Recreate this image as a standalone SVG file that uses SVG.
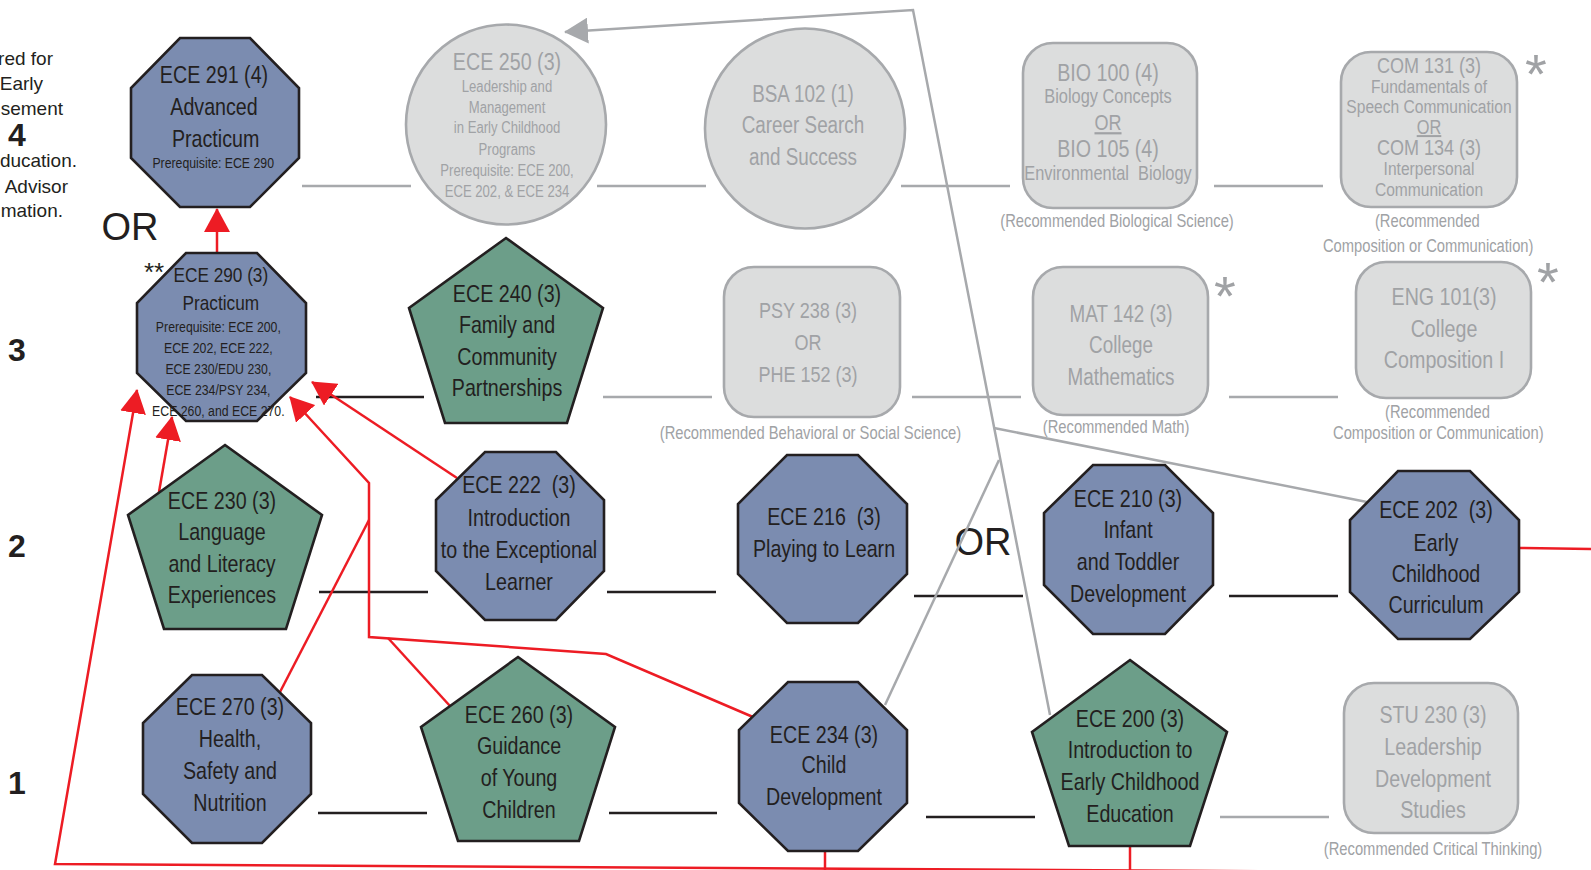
<svg xmlns="http://www.w3.org/2000/svg" width="1591" height="870" viewBox="0 0 1591 870">
<style>
.blue{fill:#7b8cb0;stroke:#231f20;stroke-width:2.6;stroke-linejoin:miter}
.green{fill:#6c9e89;stroke:#231f20;stroke-width:2.6}
.outline{fill:none;stroke:#231f20;stroke-width:2.6}
.gbox{fill:#dcdddd;stroke:#a7a9ac;stroke-width:2.6}
.t{font-family:'Liberation Sans',Arial,sans-serif;text-anchor:middle;fill:#231f20;font-size:24px;white-space:pre}
.s15{font-size:15px}
.s16{font-size:16px}
.s18{font-size:18px}
.s20{font-size:20px}
.s21{font-size:21px}
.s22{font-size:22px}
.s23{font-size:23px}
.gt{fill:#a0a2a5}
.side{font-family:'Liberation Sans',Arial,sans-serif;font-size:19px;fill:#231f20;text-anchor:end}
.num{font-family:'Liberation Sans',Arial,sans-serif;font-size:32px;font-weight:bold;fill:#231f20;text-anchor:middle}
.or{font-family:'Liberation Sans',Arial,sans-serif;font-size:38px;fill:#231f20;text-anchor:middle}
.ast{font-family:'Liberation Sans',Arial,sans-serif;font-size:56px;fill:#a0a2a5;text-anchor:middle}
.red{fill:none;stroke:#ed1c24;stroke-width:2.5}
.grey{fill:none;stroke:#a7a9ac;stroke-width:2.5}
.sepb{stroke:#231f20;stroke-width:2.5}
.sepg{stroke:#a7a9ac;stroke-width:2.5}
</style>
<defs>
<marker id="ar" markerUnits="userSpaceOnUse" markerWidth="24" markerHeight="26" viewBox="0 0 24 26" refX="23" refY="13" orient="auto"><path d="M0,0 L24,13 L0,26 z" fill="#ed1c24"/></marker>
<marker id="ag" markerUnits="userSpaceOnUse" markerWidth="24" markerHeight="26" viewBox="0 0 24 26" refX="23" refY="13" orient="auto"><path d="M0,0 L24,13 L0,26 z" fill="#a7a9ac"/></marker>
</defs>
<rect width="1591" height="870" fill="#ffffff"/>

<g id="side-labels">
<text class="side" x="53" y="65">red for</text>
<text class="side" x="43" y="90">Early</text>
<text class="side" x="63" y="115">sement</text>
<text class="side" x="77" y="167">ducation.</text>
<text class="side" x="68" y="193">Advisor</text>
<text class="side" x="63" y="217">mation.</text>
<text class="num" x="17" y="146">4</text>
<text class="num" x="17" y="361">3</text>
<text class="num" x="17" y="557">2</text>
<text class="num" x="17" y="794">1</text>
<text class="or" x="130" y="240">OR</text>
<text class="or" x="983" y="555">OR</text>
<text x="154" y="281" style="font-family:'Liberation Sans',Arial,sans-serif;font-size:26px;fill:#231f20;text-anchor:middle">**</text>
<text class="ast" x="1536" y="93">*</text>
<text class="ast" x="1225" y="315">*</text>
<text class="ast" x="1548" y="301">*</text>
</g>

<g id="connectors">
<line class="sepg" x1="302" y1="186" x2="411" y2="186"/>
<line class="sepg" x1="597" y1="186" x2="706" y2="186"/>
<line class="sepg" x1="901" y1="186" x2="1010" y2="186"/>
<line class="sepg" x1="1214" y1="186" x2="1323" y2="186"/>
<line class="sepb" x1="316" y1="397" x2="424" y2="397"/>
<line class="sepg" x1="603" y1="397" x2="712" y2="397"/>
<line class="sepg" x1="912" y1="397" x2="1021" y2="397"/>
<line class="sepg" x1="1229" y1="397" x2="1338" y2="397"/>
<line class="sepb" x1="319" y1="592" x2="428" y2="592"/>
<line class="sepb" x1="607" y1="592" x2="716" y2="592"/>
<line class="sepb" x1="914" y1="596" x2="1023" y2="596"/>
<line class="sepb" x1="1229" y1="596" x2="1338" y2="596"/>
<line class="sepb" x1="318" y1="813" x2="427" y2="813"/>
<line class="sepb" x1="609" y1="813" x2="717" y2="813"/>
<line class="sepb" x1="926" y1="817" x2="1035" y2="817"/>
<line class="sepg" x1="1220" y1="817" x2="1329" y2="817"/>
<path class="grey" d="M1050,715 L913,10 L565,32" marker-end="url(#ag)"/>
<path class="grey" d="M885,705 L999,460"/>
<path class="grey" d="M1367,502 L994,428"/>
<path class="red" d="M1300,871.5 L55,864 L137,390" marker-end="url(#ar)"/>
<path class="red" d="M825,851 V870"/>
<path class="red" d="M1130,846 V870"/>
<path class="red" d="M1519,548 L1591,549"/>
<path class="red" d="M159,492 L172,417" marker-end="url(#ar)"/>
<path class="red" d="M753,717 L606,654 L369,637 L369,483 L290,397" marker-end="url(#ar)"/>
<path class="red" d="M450,706 L388,638"/>
<path class="red" d="M280,692 L369,520"/>
<path class="red" d="M457,478 L312,382" marker-end="url(#ar)"/>
<path class="red" d="M217,253 L217,209" marker-end="url(#ar)"/>
</g>

<g id="ece291">
<polygon class="blue" points="180,38 250,38 299,88 299,158 250,207 180,207 131,158 131,88"/>
<g transform="translate(214 0) scale(0.82 1)">
<text class="t" x="0" y="83">ECE 291 (4)</text>
<text class="t" x="0" y="115">Advanced</text>
<text class="t" x="2" y="147">Practicum</text>
<text class="t s15" x="-1" y="168">Prerequisite: ECE 290</text>
</g>
</g>

<g id="ece290">
<polygon points="186,253 257,253 306,303 306,373 257,421 186,421 137,373 137,303" fill="#7b8cb0"/>
<g transform="translate(220 0) scale(0.82 1)">
<text class="t s21" x="1" y="282">ECE 290 (3)</text>
<text class="t s21" x="1" y="310">Practicum</text>
<text class="t s15" x="-2" y="332">Prerequisite: ECE 200,</text>
<text class="t s15" x="-2" y="353">ECE 202, ECE 222,</text>
<text class="t s15" x="-2" y="374">ECE 230/EDU 230,</text>
<text class="t s15" x="-2" y="395">ECE 234/PSY 234,</text>
<text class="t s15" x="-2" y="416">ECE 260, and ECE 270.</text>
</g>
<polygon class="outline" points="186,253 257,253 306,303 306,373 257,421 186,421 137,373 137,303"/>
</g>

<g id="ece250">
<circle class="gbox" cx="506" cy="124.5" r="100"/>
<g transform="translate(507 0) scale(0.82 1)">
<text class="t gt" x="0" y="70">ECE 250 (3)</text>
<text class="t gt s16" x="0" y="92">Leadership and</text>
<text class="t gt s16" x="0" y="113">Management</text>
<text class="t gt s16" x="0" y="133">in Early Childhood</text>
<text class="t gt s16" x="0" y="155">Programs</text>
<text class="t gt s16" x="0" y="176">Prerequisite: ECE 200,</text>
<text class="t gt s16" x="0" y="197">ECE 202, &amp; ECE 234</text>
</g>
</g>

<g id="bsa102">
<circle class="gbox" cx="805" cy="128.5" r="100"/>
<g transform="translate(803 0) scale(0.82 1)">
<text class="t gt s23" x="0" y="102">BSA 102 (1)</text>
<text class="t gt s23" x="0" y="133">Career Search</text>
<text class="t gt s23" x="0" y="165">and Success</text>
</g>
</g>

<g id="bio">
<rect class="gbox" x="1023" y="43" width="174" height="165" rx="30"/>
<g transform="translate(1108 0) scale(0.82 1)">
<text class="t gt" x="0" y="81">BIO 100 (4)</text>
<text class="t gt s20" x="0" y="103">Biology Concepts</text>
<text class="t gt s22" x="0" y="130" text-decoration="underline">OR</text>
<text class="t gt" x="0" y="157">BIO 105 (4)</text>
<text class="t gt s20" x="0" y="180">Environmental  Biology</text>
<text class="t gt s18" x="11" y="227">(Recommended Biological Science)</text>
</g>
</g>

<g id="com">
<rect class="gbox" x="1341" y="52" width="176" height="155" rx="30"/>
<g transform="translate(1429 0) scale(0.82 1)">
<text class="t gt s22" x="0" y="73">COM 131 (3)</text>
<text class="t gt s19" x="0" y="93" style="font-size:19px">Fundamentals of</text>
<text class="t gt" x="0" y="113" style="font-size:19px">Speech Communication</text>
<text class="t gt" x="0" y="134" style="font-size:20px" text-decoration="underline">OR</text>
<text class="t gt s22" x="0" y="155">COM 134 (3)</text>
<text class="t gt" x="0" y="175" style="font-size:19px">Interpersonal</text>
<text class="t gt" x="0" y="196" style="font-size:19px">Communication</text>
<text class="t gt s18" x="-2" y="227">(Recommended</text>
<text class="t gt s18" x="-1" y="252">Composition or Communication)</text>
</g>
</g>

<g id="ece240">
<polygon class="green" points="506,238 603,308 567,423 445,423 409,308"/>
<g transform="translate(507 0) scale(0.82 1)">
<text class="t" x="0" y="302">ECE 240 (3)</text>
<text class="t" x="0" y="333">Family and</text>
<text class="t" x="0" y="365">Community</text>
<text class="t" x="0" y="396">Partnerships</text>
</g>
</g>

<g id="psy">
<rect class="gbox" x="724" y="267" width="176" height="150" rx="30"/>
<g transform="translate(808 0) scale(0.82 1)">
<text class="t gt s22" x="0" y="318">PSY 238 (3)</text>
<text class="t gt s22" x="0" y="350">OR</text>
<text class="t gt s22" x="0" y="382">PHE 152 (3)</text>
<text class="t gt s18" x="3" y="439">(Recommended Behavioral or Social Science)</text>
</g>
</g>

<g id="mat">
<rect class="gbox" x="1033" y="267" width="175" height="148" rx="30"/>
<g transform="translate(1121 0) scale(0.82 1)">
<text class="t gt s23" x="0" y="322">MAT 142 (3)</text>
<text class="t gt s23" x="0" y="353">College</text>
<text class="t gt s23" x="0" y="385">Mathematics</text>
<text class="t gt s18" x="-6" y="433">(Recommended Math)</text>
</g>
</g>

<g id="eng">
<rect class="gbox" x="1356" y="262" width="175" height="136" rx="30"/>
<g transform="translate(1444 0) scale(0.82 1)">
<text class="t gt" x="0" y="305">ENG 101(3)</text>
<text class="t gt" x="0" y="337">College</text>
<text class="t gt" x="0" y="368">Composition I</text>
<text class="t gt s18" x="-8" y="418">(Recommended</text>
<text class="t gt s18" x="-7" y="439">Composition or Communication)</text>
</g>
</g>

<g id="ece230">
<polygon class="green" points="225,445 322,515 286,629 164,629 128,515"/>
<g transform="translate(222 0) scale(0.82 1)">
<text class="t" x="0" y="509">ECE 230 (3)</text>
<text class="t" x="0" y="540">Language</text>
<text class="t" x="0" y="572">and Literacy</text>
<text class="t" x="0" y="603">Experiences</text>
</g>
</g>

<g id="ece222">
<polygon class="blue" points="485,452 556,452 604,500 604,571 556,620 485,620 436,571 436,500"/>
<g transform="translate(519 0) scale(0.82 1)">
<text class="t" x="0" y="493">ECE 222  (3)</text>
<text class="t" x="0" y="526">Introduction</text>
<text class="t" x="0" y="558">to the Exceptional</text>
<text class="t" x="0" y="590">Learner</text>
</g>
</g>

<g id="ece216">
<polygon class="blue" points="787,455 858,455 907,504 907,574 858,623 787,623 738,574 738,504"/>
<g transform="translate(824 0) scale(0.82 1)">
<text class="t" x="0" y="525">ECE 216  (3)</text>
<text class="t" x="0" y="557">Playing to Learn</text>
</g>
</g>

<g id="ece210">
<polygon class="blue" points="1093,465 1165,465 1213,513 1213,585 1165,634 1093,634 1044,585 1044,513"/>
<g transform="translate(1128 0) scale(0.82 1)">
<text class="t" x="0" y="507">ECE 210 (3)</text>
<text class="t" x="0" y="538">Infant</text>
<text class="t" x="0" y="570">and Toddler</text>
<text class="t" x="0" y="602">Development</text>
</g>
</g>

<g id="ece202">
<polygon class="blue" points="1398,471 1470,471 1519,520 1519,592 1470,639 1398,639 1350,592 1350,520"/>
<g transform="translate(1436 0) scale(0.82 1)">
<text class="t" x="0" y="518">ECE 202  (3)</text>
<text class="t" x="0" y="551">Early</text>
<text class="t" x="0" y="582">Childhood</text>
<text class="t" x="0" y="613">Curriculum</text>
</g>
</g>

<g id="ece270">
<polygon class="blue" points="192,675 262,675 311,723 311,794 262,843 192,843 143,794 143,723"/>
<g transform="translate(230 0) scale(0.82 1)">
<text class="t" x="0" y="715">ECE 270 (3)</text>
<text class="t" x="0" y="747">Health,</text>
<text class="t" x="0" y="779">Safety and</text>
<text class="t" x="0" y="811">Nutrition</text>
</g>
</g>

<g id="ece260">
<polygon class="green" points="518,657 615,727 579,841 458,841 421,727"/>
<g transform="translate(519 0) scale(0.82 1)">
<text class="t" x="0" y="723">ECE 260 (3)</text>
<text class="t" x="0" y="754">Guidance</text>
<text class="t" x="0" y="786">of Young</text>
<text class="t" x="0" y="818">Children</text>
</g>
</g>

<g id="ece234">
<polygon class="blue" points="788,682 858,682 907,730 907,803 858,851 788,851 739,803 739,730"/>
<g transform="translate(824 0) scale(0.82 1)">
<text class="t" x="0" y="743">ECE 234 (3)</text>
<text class="t" x="0" y="773">Child</text>
<text class="t" x="0" y="805">Development</text>
</g>
</g>

<g id="ece200">
<polygon class="green" points="1130,660 1227,732 1190,846 1069,846 1032,732"/>
<g transform="translate(1130 0) scale(0.82 1)">
<text class="t" x="0" y="727">ECE 200 (3)</text>
<text class="t" x="0" y="758">Introduction to</text>
<text class="t" x="0" y="790">Early Childhood</text>
<text class="t" x="0" y="822">Education</text>
</g>
</g>

<g id="stu230">
<rect class="gbox" x="1344" y="683" width="174" height="150" rx="30"/>
<g transform="translate(1433 0) scale(0.82 1)">
<text class="t gt" x="0" y="723">STU 230 (3)</text>
<text class="t gt" x="0" y="755">Leadership</text>
<text class="t gt" x="0" y="787">Development</text>
<text class="t gt" x="0" y="818">Studies</text>
<text class="t gt s18" x="0" y="855">(Recommended Critical Thinking)</text>
</g>
</g>
</svg>
